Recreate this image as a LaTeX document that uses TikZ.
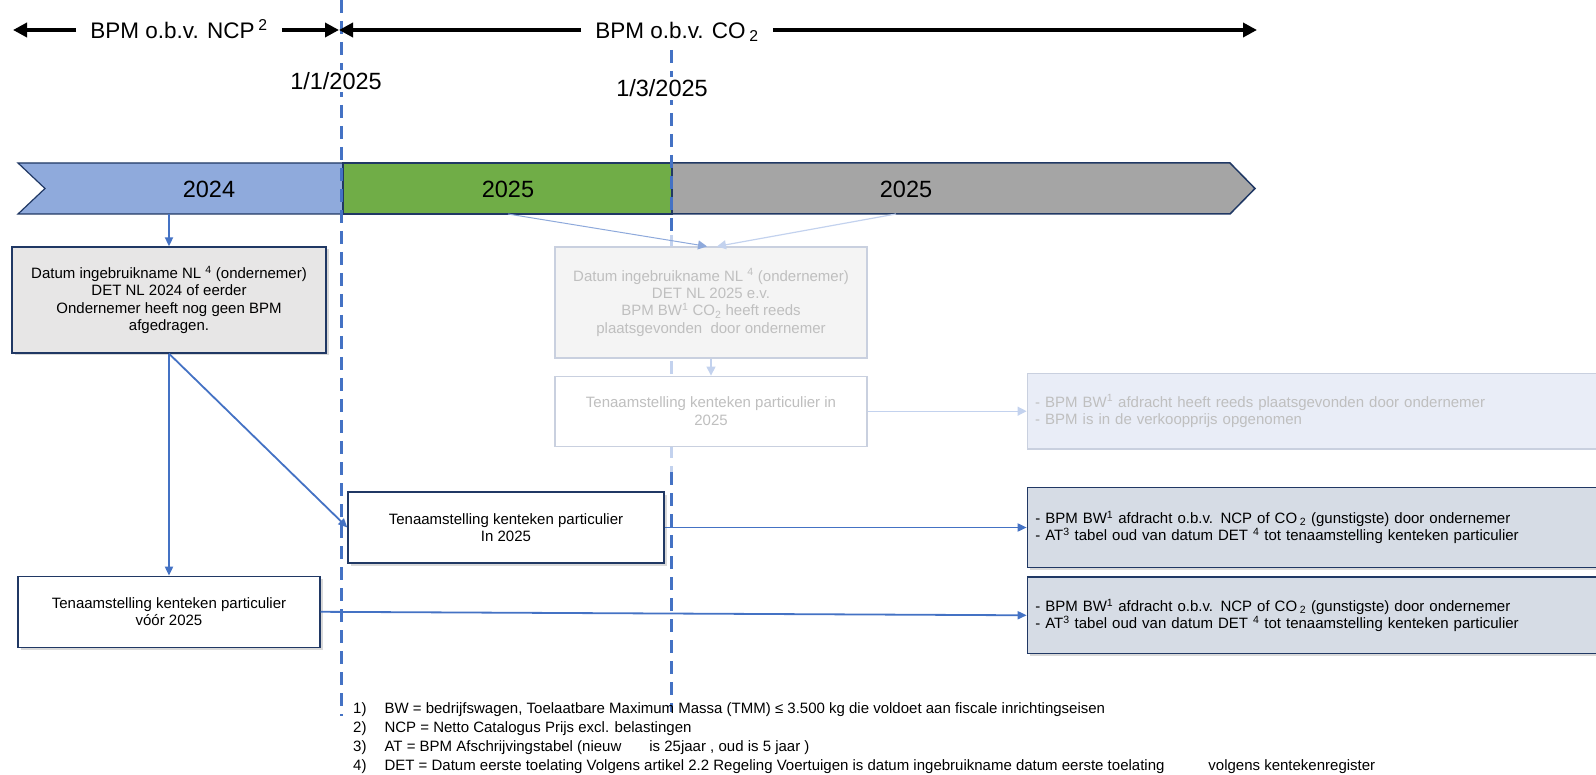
\documentclass[tikz,border=0pt]{standalone}
\usepackage{fontspec}
\setmainfont{Liberation Sans}
\usepackage{xcolor}
\usetikzlibrary{positioning,arrows.meta,shadows}

\definecolor{navy}{HTML}{203864}
\definecolor{lineblue}{HTML}{4472C4}
\definecolor{barblue}{HTML}{8FAADC}
\definecolor{bargreen}{HTML}{70AD47}
\definecolor{bargray}{HTML}{A5A5A5}
\definecolor{boxgray}{HTML}{E7E6E6}
\definecolor{boxslate}{HTML}{D6DCE5}
\definecolor{fadeline}{HTML}{C9D0DF}
\definecolor{fadefill}{HTML}{F4F4F4}
\definecolor{fadenote}{HTML}{E9EDF7}
\definecolor{fadetext}{HTML}{BFBFBF}
\definecolor{fadearrow}{HTML}{C3D2EE}
\definecolor{midblue}{HTML}{8EA9DB}

\begin{document}
\begin{tikzpicture}[x=1pt, y=-1pt,
  lab/.style={text depth=0pt, inner sep=0pt},
  barlab/.style={lab, text height=16.8pt, font=\fontsize{23.5}{27}\selectfont},
  datelab/.style={lab, text height=16.8pt, font=\fontsize{23.5}{27}\selectfont, fill=white, inner xsep=1pt, inner ysep=3pt},
  toplab/.style={lab, text height=16.1pt, font=\fontsize{22.5}{27}\selectfont, inner xsep=14pt},
  bigarr/.style={-{Triangle[length=14pt, width=14pt]}, line width=4.5pt},
  guide/.style={draw=lineblue, line width=3pt, dash pattern=on 13pt off 8pt},
  fadeguide/.style={guide, draw=fadearrow},
  box/.style={rectangle, draw=navy, line width=1.3pt, align=center, inner sep=4pt, font=\fontsize{15}{17.4}\selectfont, drop shadow={shadow xshift=2.5pt, shadow yshift=-2.5pt, opacity=0.3}},
  fadebox/.style={rectangle, draw=fadeline, line width=1.2pt, align=center, inner sep=4pt, text=fadetext, font=\fontsize{15}{17.4}\selectfont},
  note/.style={box, fill=boxslate, text width=600pt, align=left, inner xsep=8pt},
  arr/.style={-{Triangle[length=9pt, width=8pt]}, line width=1.8pt, draw=lineblue},
  fadearr/.style={-{Triangle[length=9pt, width=9pt]}, line width=1.2pt, draw=fadearrow},
]
\useasboundingbox (0,0) rectangle (1596,775);

% timeline bar
\path[draw=navy, line width=1.2pt, fill=barblue] (18,163) -- (343,163) -- (343,214) -- (18,214) -- (45,188.5) -- cycle;
\path[draw=navy, line width=1.5pt, fill=bargreen] (343,163) rectangle (672,214);
\path[draw=navy, line width=1.5pt, fill=bargray] (672,163) -- (1230,163) -- (1255,188.5) -- (1230,214) -- (672,214) -- cycle;
\node[barlab] (y2024) at (209,189) {2024};
\node[barlab] (y2025a) at (508,189) {2025};
\node[barlab] (y2025b) at (906,189) {2025};
\coordinate (barbot) at (0,214);

% date lines
\coordinate (d1top) at (341,0);
\coordinate (d1bot) at (341,716);
\coordinate (d2top) at (671,50);
\coordinate (d2fa) at (671,235);
\coordinate (d2fb) at (671,472);
\coordinate (d2bot) at (671,712);
\draw[guide] (d1top) -- (d1bot);
\draw[guide] (d2top) -- (d2fa);
\draw[fadeguide] (d2fa) -- (d2fb);
\draw[guide] (d2fb) -- (d2bot);
\node[datelab] (jan) at (336,81) {1/1/2025};
\node[datelab] (mar) at (662,88.5) {1/3/2025};

% periods
\node[toplab] (ncp) at (179,30) {BPM o.b.v. NCP\,\textsuperscript{2}};
\node[toplab] (co2) at (677,30) {BPM o.b.v. CO\,\textsubscript{2}};
\coordinate (ncpend) at (13,30);
\coordinate (co2end) at (1257,30);
\draw[bigarr] (ncp.west) -- (ncpend);
\draw[bigarr, shorten >=2pt] (ncp.east) -- (ncp.east -| d1top);
\draw[bigarr, shorten >=-2pt] (co2.west) -- (co2.west -| d1top);
\draw[bigarr] (co2.east) -- (co2end);

% boxes
\node[box, fill=boxgray, minimum width=314pt, minimum height=106pt] (datumA) at (169,300) {Datum ingebruikname NL \textsuperscript{4} (ondernemer)\\DET NL 2024 of eerder\\Ondernemer heeft nog geen BPM\\afgedragen.};
\node[box, fill=white, minimum width=302pt, minimum height=71pt, below=222pt of datumA] (tenH) {Tenaamstelling kenteken particulier\\vóór 2025};
\node[box, fill=white, minimum width=316pt, minimum height=71pt] (tenG) at (506,527.5) {Tenaamstelling kenteken particulier\\In 2025};

\node[fadebox, fill=fadefill, minimum width=312pt, minimum height=111pt] (datumB) at (711,302.5) {Datum ingebruikname NL \textsuperscript{4} (ondernemer)\\DET NL 2025 e.v.\\BPM BW\textsuperscript{1} CO\textsubscript{2} heeft reeds\\plaatsgevonden\ \ door ondernemer};
\node[fadebox, fill=white, minimum width=312pt, minimum height=70pt, below=17pt of datumB] (tenC) {Tenaamstelling kenteken particulier in\\2025};
\node[fadebox, fill=fadenote, text width=600pt, align=left, inner xsep=8pt, minimum height=75.5pt, right=159pt of tenC] (bpmD) {- BPM BW\textsuperscript{1} afdracht heeft reeds plaatsgevonden door ondernemer\\- BPM is in de verkoopprijs opgenomen};

\node[note, minimum height=80.5pt, right=362pt of tenG] (bpmE) {- BPM BW\textsuperscript{1} afdracht o.b.v. NCP of CO\,\textsubscript{2} (gunstigste) door ondernemer\\- AT\textsuperscript{3} tabel oud van datum DET \textsuperscript{4} tot tenaamstelling kenteken particulier};
\node[note, minimum height=76.5pt, below=8pt of bpmE] (bpmF) {- BPM BW\textsuperscript{1} afdracht o.b.v. NCP of CO\,\textsubscript{2} (gunstigste) door ondernemer\\- AT\textsuperscript{3} tabel oud van datum DET \textsuperscript{4} tot tenaamstelling kenteken particulier};

% connectors
\draw[arr] (datumA.north |- barbot) -- (datumA.north);
\draw[arr] (tenH.north |- datumA.south) -- (tenH.north);
\draw[arr] (datumA.south) -- (tenG.west);
\draw[arr] (tenG.east) -- (bpmE.west);
\draw[arr] (tenH.east) -- (bpmF.west);
\draw[fadearr, draw=midblue, line width=1pt] (y2025a |- barbot) -- ([xshift=-4pt]datumB.north);
\draw[fadearr] ([xshift=-10pt]y2025b |- barbot) -- ([xshift=6pt]datumB.north);
\draw[fadearr] (datumB.south) -- (tenC.north);
\draw[fadearr] (tenC.east) -- (bpmD.west);

% footnotes
\node[anchor=north west, inner sep=0pt, font=\fontsize{15}{19}\selectfont] (fnotes) at (353,700) {%
\begin{tabular}{@{}l@{\hspace{18pt}}l@{}}
1) & BW = bedrijfswagen, Toelaatbare Maximum Massa (TMM) ≤ 3.500 kg die voldoet aan fiscale inrichtingseisen\\
2) & NCP = Netto Catalogus Prijs excl. belastingen\\
3) & AT = BPM Afschrijvingstabel (nieuw\hspace{28pt}is 25jaar , oud is 5 jaar )\\
4) & DET = Datum eerste toelating Volgens artikel 2.2 Regeling Voertuigen is datum ingebruikname datum eerste toelating\hspace{44pt}volgens kentekenregister
\end{tabular}};
\end{tikzpicture}
\end{document}
